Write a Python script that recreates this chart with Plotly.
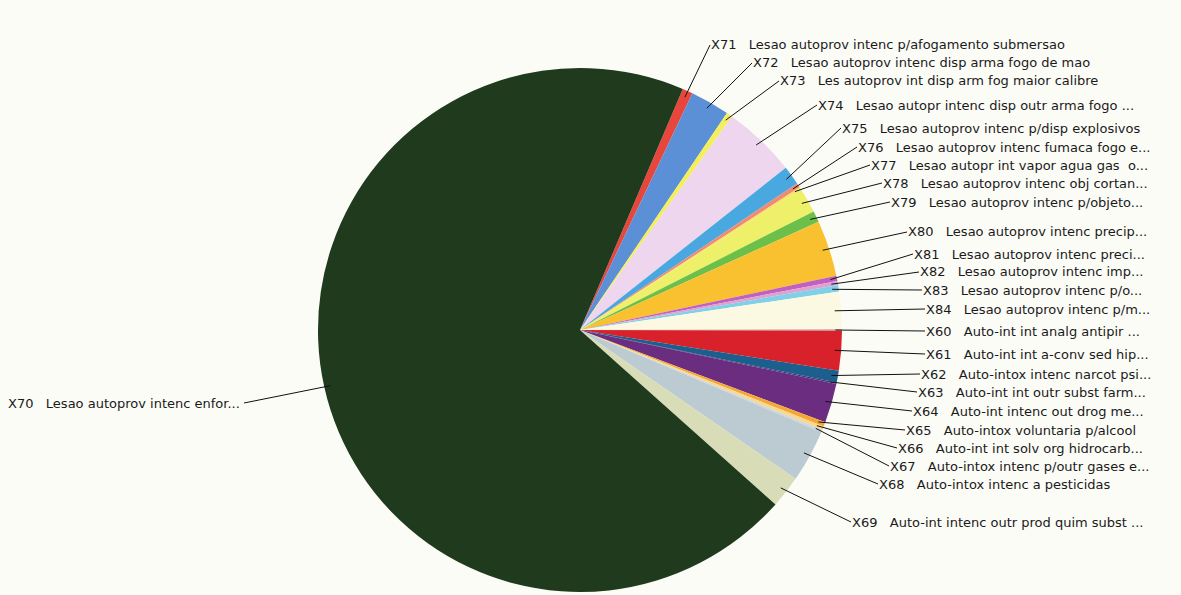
import math
import plotly.graph_objects as go

# ---- data (clockwise, starting just right of 12 o'clock) ----
codes = ["X71", "X72", "X73", "X74", "X75", "X76", "X77", "X78", "X79", "X80",
         "X81", "X82", "X83", "X84", "X60", "X61", "X62", "X63", "X64", "X65",
         "X66", "X67", "X68", "X69", "X70"]
descriptions = [
    "Lesao autoprov intenc p/afogamento submersao",
    "Lesao autoprov intenc disp arma fogo de mao",
    "Les autoprov int disp arm fog maior calibre",
    "Lesao autopr intenc disp outr arma fogo ...",
    "Lesao autoprov intenc p/disp explosivos",
    "Lesao autoprov intenc fumaca fogo e...",
    "Lesao autopr int vapor agua gas  o...",
    "Lesao autoprov intenc obj cortan...",
    "Lesao autoprov intenc p/objeto...",
    "Lesao autoprov intenc precip...",
    "Lesao autoprov intenc preci...",
    "Lesao autoprov intenc imp...",
    "Lesao autoprov intenc p/o...",
    "Lesao autoprov intenc p/m...",
    "Auto-int int analg antipir ...",
    "Auto-int int a-conv sed hip...",
    "Auto-intox intenc narcot psi...",
    "Auto-int int outr subst farm...",
    "Auto-int intenc out drog me...",
    "Auto-intox voluntaria p/alcool",
    "Auto-int int solv org hidrocarb...",
    "Auto-intox intenc p/outr gases e...",
    "Auto-intox intenc a pesticidas",
    "Auto-int intenc outr prod quim subst ...",
    "Lesao autoprov intenc enfor...",
]
values = [23, 87, 13, 163, 42, 10, 5, 56, 25, 124,
          12, 9, 14, 83, 3, 88, 26, 3, 87, 10,
          8, 5, 117, 71, 2508]

# ---- styling ----
colors = ["#e8453c", "#5b8fd6", "#f2ef5a", "#eed6ee", "#4aa8e0", "#f08a70",
          "#f5e56a", "#eef06a", "#6cc04a", "#f9c030", "#c060c0", "#e0a0d0",
          "#80d0e8", "#fbf9e2", "#c8a0a0", "#d8212a", "#1c5f8c", "#3a3a7a",
          "#6a2d80", "#f6a634", "#f8d88a", "#d0d6dc", "#bccad2", "#d8ddb8",
          "#1f3a1c"]
label_pos = [(709, 45), (751, 63), (778, 81), (816, 105), (840, 128), (856, 147),
             (869, 165), (881, 183), (889, 202), (906, 232), (912, 254), (918, 272),
             (921, 290), (924, 309), (924, 331), (924, 354), (919, 374), (916, 392),
             (911, 411), (904, 430), (896, 448), (888, 466), (877, 484), (850, 522),
             (6, 403)]

W, H = 1181, 595
CX, CY, R = 580, 330, 262
ROT = 23.1
BG = "#fcfcf7"

fig = go.Figure(go.Pie(
    labels=codes, values=values, sort=False, direction="clockwise",
    rotation=ROT, textinfo="none", hoverinfo="label+value+percent",
    marker=dict(colors=colors, line=dict(width=0)),
    domain=dict(x=[(CX - R) / W, (CX + R) / W], y=[(H - CY - R) / H, (H - CY + R) / H]),
    showlegend=False,
))

total = sum(values)
cum = 0
shapes, annotations = [], []
for code, desc, v, (lx, ly) in zip(codes, descriptions, values, label_pos):
    mid = math.radians(ROT + (cum + v / 2) / total * 360)
    cum += v
    tx = CX + 0.975 * R * math.sin(mid)
    ty = CY - 0.975 * R * math.cos(mid)
    text = code + "\u00a0\u00a0\u00a0" + desc
    annotations.append(dict(x=lx / W, y=1 - ly / H, xref="paper", yref="paper",
                            text=text, showarrow=False, xanchor="left", yanchor="middle",
                            font=dict(family="DejaVu Sans", size=13, color="#1a1a1a")))
    sx = lx + 1 if code != "X70" else 244
    shapes.append(dict(type="line", xref="paper", yref="paper", layer="above",
                       x0=sx / W, y0=1 - ly / H, x1=tx / W, y1=1 - ty / H,
                       line=dict(color="#111111", width=1)))

fig.update_layout(width=W, height=H, margin=dict(l=0, r=0, t=0, b=0),
                  paper_bgcolor=BG, plot_bgcolor=BG,
                  shapes=shapes, annotations=annotations)
fig.write_html("out.html")
